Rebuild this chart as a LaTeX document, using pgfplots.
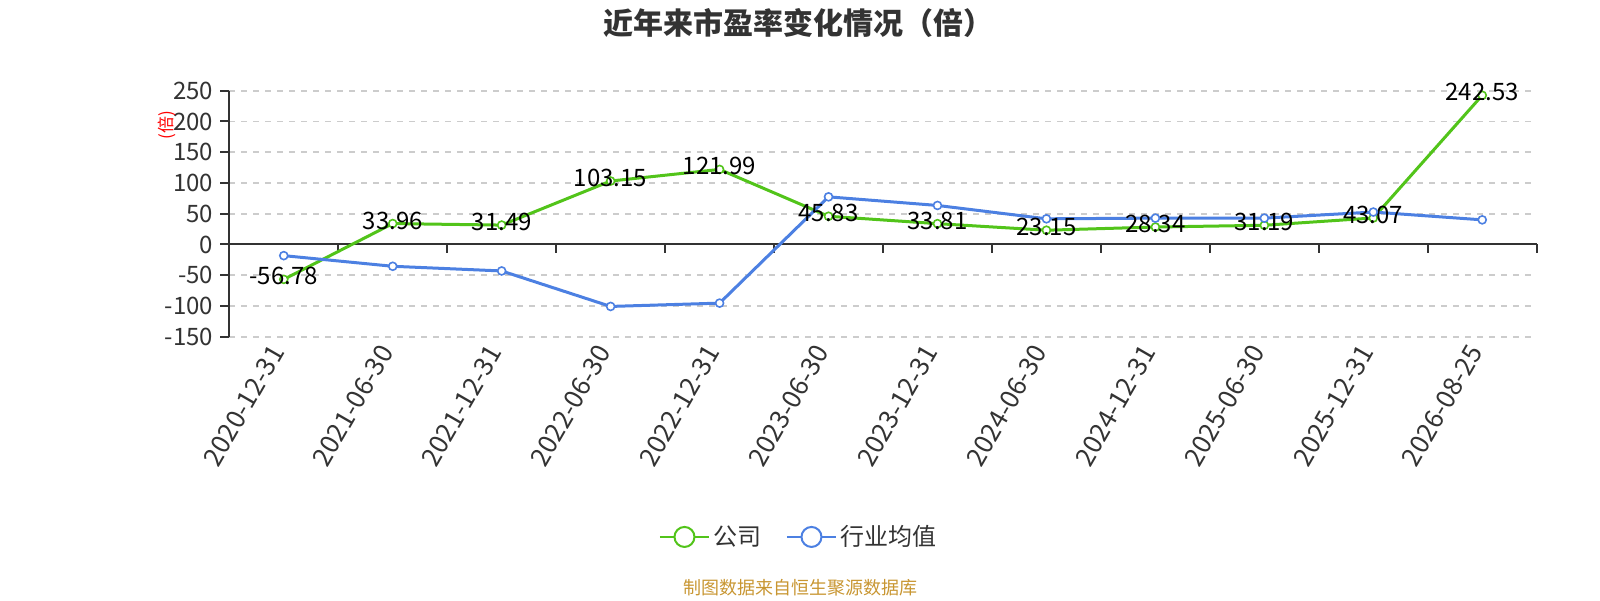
\documentclass[border=0pt]{standalone}
\usepackage{fontspec}
\setmainfont{Noto Sans CJK SC}
\usepackage{pgfplots}
\pgfplotsset{compat=1.18}
\definecolor{cgreen}{RGB}{82,196,26}
\definecolor{cblue}{RGB}{76,128,226}
\definecolor{ctext}{RGB}{51,51,51}
\definecolor{cgrid}{RGB}{204,204,204}
\definecolor{csrc}{RGB}{200,150,50}
\begin{document}
\begin{tikzpicture}[x=1pt,y=1pt]
\begin{axis}[
  at={(114.65pt,131.65pt)}, anchor=south west,
  scale only axis, width=653.7pt, height=123pt,
  xmin=-0.5, xmax=11.5, ymin=-150, ymax=250,
  clip=false,
  axis y line*=left, axis x line*=bottom,
  x axis line style={draw=none},
  y axis line style={ctext, line width=1pt},
  xtick={0,...,11},
  xticklabels={2020-12-31,2021-06-30,2021-12-31,2022-06-30,2022-12-31,2023-06-30,2023-12-31,2024-06-30,2024-12-31,2025-06-30,2025-12-31,2026-08-25},
  xtick style={draw=none},
  ytick={-150,-100,...,250},
  ytick style={ctext, line width=1pt},
  tick align=outside, major tick length=4.5pt,
  ymajorgrids, grid style={cgrid, line width=0.8pt, dash pattern=on 3pt off 3pt},
  /pgf/number format/assume math mode=true,
  yticklabel style={font=\fontsize{12}{14}\selectfont, text=ctext},
  xticklabel style={xshift=-1.5pt, yshift=2pt, rotate=60, anchor=east, font=\fontsize{13}{15}\selectfont, text=ctext},
  legend columns=2,
  legend style={at={(0.4365,-0.814)}, anchor=center, draw=none, fill=none,
    font=\fontsize{12}{14}\selectfont, text=ctext,
    /tikz/every even column/.append style={column sep=10pt}},
  legend image code/.code={\draw[#1, line width=1pt] (-1.5pt,0pt) -- (23pt,0pt);
    \draw[#1, line width=1pt, fill=white] (10.75pt,0pt) circle (5pt);},
]
\draw[ctext, line width=1pt] (axis cs:-0.5,0) -- (axis cs:11.5,0);
\pgfplotsinvokeforeach{-0.5,0.5,1.5,2.5,3.5,4.5,5.5,6.5,7.5,8.5,9.5,10.5,11.5}{
  \draw[ctext, line width=1pt] (axis cs:#1,0) -- ++(0pt,-4.5pt);
}
\addplot[color=cgreen, line width=1.5pt, mark=*, mark size=2pt,
  mark options={fill=white, line width=0.8pt},
  nodes near coords, point meta=explicit symbolic,
  every node near coord/.style={anchor=center, yshift=1.5pt, text=black, font=\fontsize{12}{14}\selectfont}]
coordinates {
(0,-56.78) [-56.78]
(1,33.96) [33.96]
(2,31.49) [31.49]
(3,103.15) [103.15]
(4,121.99) [121.99]
(5,45.83) [45.83]
(6,33.81) [33.81]
(7,23.15) [23.15]
(8,28.34) [28.34]
(9,31.19) [31.19]
(10,43.07) [43.07]
(11,242.53) [242.53]
};
\addlegendentry{公司}
\addplot[color=cblue, line width=1.5pt, mark=*, mark size=2pt,
  mark options={fill=white, line width=0.8pt}]
coordinates {
(0,-18.2) (1,-35.5) (2,-43.1) (3,-100.8) (4,-95.4) (5,77.4)
(6,63.4) (7,41.7) (8,42.8) (9,42.8) (10,52.7) (11,40.0)
};
\addlegendentry{行业均值}
\end{axis}
\node[font=\bfseries\fontsize{15}{18}\selectfont, text=ctext] at (399pt,288.5pt) {近年来市盈率变化情况（倍）};
\node[font=\fontsize{8.5}{10}\selectfont, text=red, rotate=90] at (83.5pt,237.5pt) {(倍)};
\node[font=\fontsize{9}{11}\selectfont, text=csrc] at (400pt,6pt) {制图数据来自恒生聚源数据库};
\pgfresetboundingbox
\path[use as bounding box] (0,0) rectangle (800pt,300pt);
\end{tikzpicture}
\end{document}
